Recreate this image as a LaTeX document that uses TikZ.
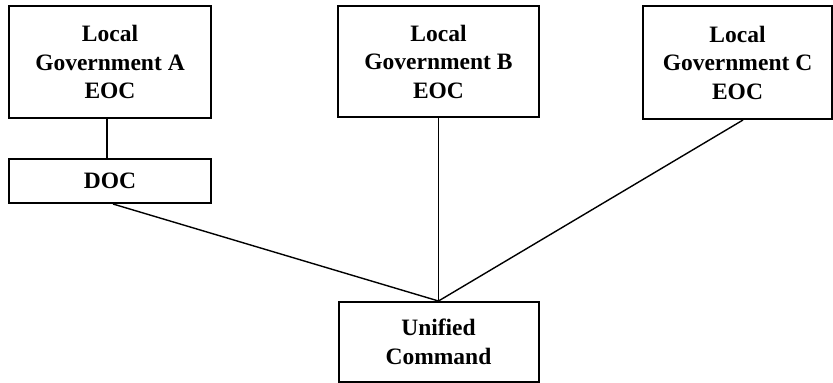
\documentclass[tikz,border=0pt]{standalone}
\usepackage{fontspec}
\setmainfont{Liberation Serif}
\begin{document}
\begin{tikzpicture}[x=1pt,y=-1pt,
  orgbox/.style={draw=black, line width=2pt, fill=white, inner sep=0pt, align=center,
    font=\fontsize{23.5}{28.5}\selectfont\bfseries},
  link/.style={draw=black, line width=1.4pt}]
\useasboundingbox (0,0) rectangle (833,383);
\node[orgbox, minimum width=202pt, minimum height=112pt] (A) at (110,62) {Local\\Government A\\EOC};
\node[orgbox, minimum width=201pt, minimum height=111pt] (B) at (438.5,61.5) {Local\\Government B\\EOC};
\node[orgbox, minimum width=189pt, minimum height=113pt] (C) at (737.5,62.5) {Local\\Government C\\EOC};
\node[orgbox, minimum width=202pt, minimum height=44pt] (D) at (110,181) {DOC};
\node[orgbox, minimum width=200pt, minimum height=80pt] (U) at (438.5,342) {Unified\\Command};
\draw[link] ([xshift=-3pt]A.south) -- ([xshift=-3pt]D.north);
\draw[link] ([xshift=3pt]D.south) -- (U.north);
\draw[link] (B.south) -- (U.north);
\draw[link] ([xshift=5.5pt]C.south) -- (U.north);
\end{tikzpicture}
\end{document}
